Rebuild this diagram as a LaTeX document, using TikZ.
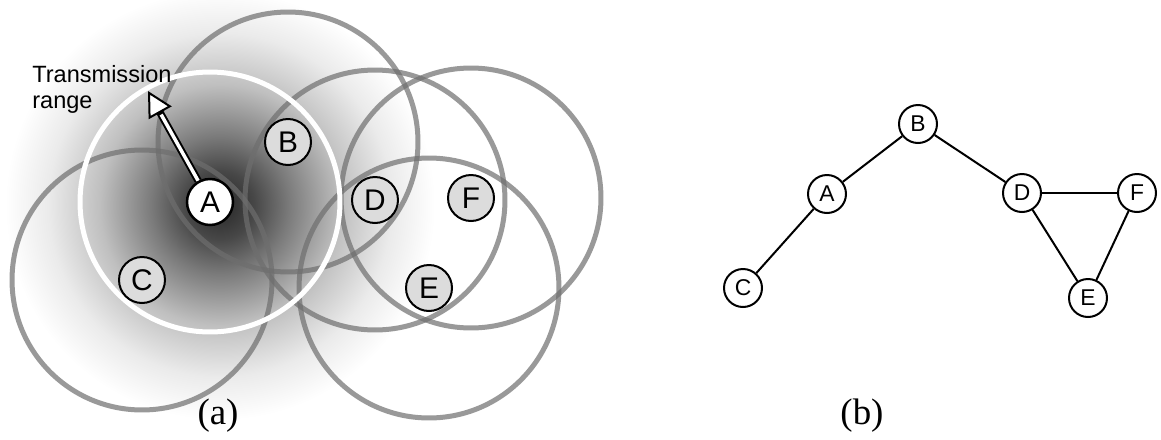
\documentclass[tikz,border=0pt]{standalone}
\usepackage{fontspec}
\setmainfont{Liberation Sans}
\newfontfamily\capfont{Liberation Serif}
\usetikzlibrary{arrows.meta, backgrounds}
\definecolor{host-fill}{HTML}{DCDCDC}
\definecolor{range-line}{HTML}{6E6E6E}
\definecolor{glow0}{gray}{0.15}
\definecolor{glow1}{gray}{0.28}
\definecolor{glow2}{gray}{0.48}
\definecolor{glow3}{gray}{0.75}
\definecolor{glow4}{gray}{0.92}
\pgfdeclareradialshading{rangeglow}{\pgfpoint{0bp}{0bp}}{%
  color(0bp)=(glow0); color(4bp)=(glow1); color(8bp)=(glow2);
  color(14bp)=(glow3); color(20bp)=(glow4); color(25bp)=(white);
  color(50bp)=(white)}
\tikzset{
  host/.style={
    circle, draw, line width=0.04cm, fill=host-fill,
    minimum size=0.92cm, inner sep=0pt, font=\fontsize{17}{17}\selectfont
  },
  sender/.style={host, fill=white, line width=0.05cm},
  rangecircle/.style={draw=range-line, draw opacity=0.7, line width=0.1cm},
  ownrange/.style={draw=white, line width=0.1cm},
  gnode/.style={
    circle, draw, line width=0.04cm, fill=white,
    minimum size=0.76cm, inner sep=0pt, font=\fontsize{13}{13}\selectfont
  },
  glink/.style={line width=0.04cm},
  caption/.style={font=\capfont\fontsize{21}{21}\selectfont, anchor=base}
}

\begin{document}
\begin{tikzpicture}[x=0.02cm, y=-0.02cm]
  \useasboundingbox (0,0) rectangle (1161,440);

  % ---- (a): hosts and their radio ranges ------------------------------------
  \node[sender] (pA) at (210,202) {A};
  \node[host]   (pB) at (288,142) {B};
  \node[host]   (pC) at (142,280) {C};
  \node[host]   (pD) at (375,200) {D};
  \node[host]   (pE) at (429,288) {E};
  \node[host]   (pF) at (471,198) {F};

  \node[anchor=north west, align=left, inner sep=0pt,
        font=\fontsize{13.4}{14.8}\selectfont] (rangelabel) at (32,65)
        {Transmission\\range};
  \coordinate (rangetip) at (148,91);

  \begin{pgfonlayer}{background}
    % signal of A, fading out
    \shade[shading=rangeglow] (220,205) circle[radius=4.3cm];
    % ranges of the other hosts
    \foreach \n in {B,C,D,E,F}
      \draw[rangecircle] (p\n.center) circle[radius=2.6cm];
    \draw[ownrange] (pA.center) circle[radius=2.6cm];
    % arrow: white shaft, black rim
    \draw[line width=0.15cm,
          -{Triangle[length=0.5cm, width=0.52cm, fill=white, line width=0.04cm]}]
          (pA) -- (rangetip);
    \draw[white, line width=0.07cm, shorten >=0.54cm] (pA) -- (rangetip);
  \end{pgfonlayer}

  \node[caption] (capa) at (218,424) {(a)};

  % ---- (b): the connectivity graph ------------------------------------------
  \node[gnode] (gB) at (918,124) {B};
  \node[gnode] (gA) at (827,194) {A};
  \node[gnode] (gC) at (743,288) {C};
  \node[gnode] (gD) at (1022,193) {D};
  \node[gnode] (gF) at (1137,193) {F};
  \node[gnode] (gE) at (1088,298) {E};

  \foreach \u/\v in {A/B, A/C, B/D, D/F, D/E, F/E}
    \draw[glink] (g\u) -- (g\v);

  \node[caption] (capb) at (862,424) {(b)};
\end{tikzpicture}
\end{document}
